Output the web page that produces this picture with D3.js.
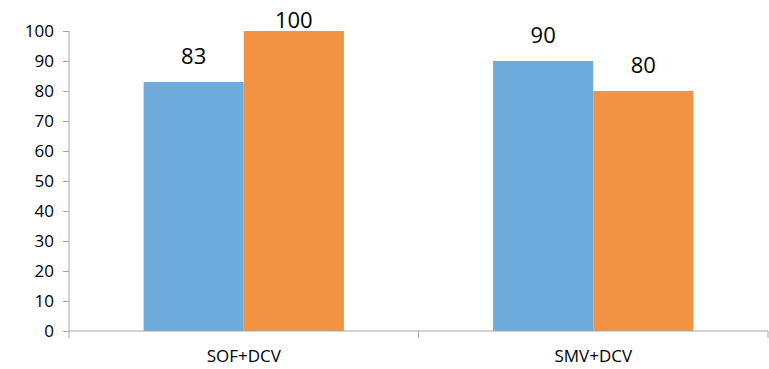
<!DOCTYPE html>
<html>
<head>
<meta charset="utf-8">
<script src="https://cdn.jsdelivr.net/npm/d3@7"></script>
<style>
  html, body { margin: 0; padding: 0; background: #fff; }
  svg { display: block; }
  text { font-family: "Open Sans", "Noto Sans", sans-serif; fill: #000; }
</style>
</head>
<body>
<svg id="chart" width="769" height="369"></svg>
<script>
// Chart data
const categories = ["SOF+DCV", "SMV+DCV"];
const seriesNames = ["A", "B"];
const seriesA = [83, 90];
const seriesB = [100, 80];
const yTicks = [0, 10, 20, 30, 40, 50, 60, 70, 80, 90, 100];
const colors = ["#6cabdc", "#f19342"];

const svg = d3.select("#chart");
const margin = { left: 69, right: 1, top: 31, bottom: 38 };
const W = 769, H = 369;

const x0 = d3.scaleBand().domain(categories).range([margin.left, W - margin.right]).paddingInner(0).paddingOuter(0);
const x1 = d3.scaleBand().domain(seriesNames).range([0, x0.bandwidth()]).paddingInner(0).paddingOuter(0.745);
const y = d3.scaleLinear().domain([0, 100]).range([H - margin.bottom, margin.top]);

const rows = categories.map((c, i) => ({ cat: c, vals: [seriesA[i], seriesB[i]] }));

// Bars
const groups = svg.append("g").selectAll("g").data(rows).join("g")
  .attr("transform", d => `translate(${x0(d.cat)},0)`);
groups.selectAll("rect").data(d => d.vals.map((v, j) => ({ v, s: seriesNames[j], j })))
  .join("rect")
  .attr("x", d => x1(d.s))
  .attr("width", x1.bandwidth())
  .attr("y", d => y(d.v))
  .attr("height", d => y(0) - y(d.v))
  .attr("fill", d => colors[d.j]);

// Value labels above the bars, kept inside the plot top
groups.selectAll("text.val").data(d => d.vals.map((v, j) => ({ v, s: seriesNames[j] })))
  .join("text")
  .attr("class", "val")
  .attr("x", d => x1(d.s) + x1.bandwidth() / 2)
  .attr("y", d => Math.max(y(d.v) - 18, 28))
  .attr("text-anchor", "middle")
  .attr("font-size", 22)
  .text(d => d.v);

// Y axis
const yAxis = svg.append("g")
  .attr("transform", `translate(${margin.left},0)`)
  .call(d3.axisLeft(y).tickValues(yTicks).tickSize(6).tickPadding(9));
yAxis.selectAll("path, line").attr("stroke", "#a6a6a6");
yAxis.select(".domain").attr("d", `M0,${y(100)}V${y(0)}`);
yAxis.selectAll("text").attr("font-size", 17).style("font-family", "'Open Sans', sans-serif").attr("fill", "#000");

// X axis
const xAxis = svg.append("g")
  .attr("transform", `translate(0,${y(0)})`)
  .call(d3.axisBottom(x0).tickSize(0).tickPadding(19));
xAxis.select(".domain").attr("stroke", "#a6a6a6").attr("d", `M${margin.left},0H${W - margin.right}`);
xAxis.selectAll("text").attr("font-size", 17).style("font-family", "'Open Sans', sans-serif").attr("fill", "#000");
// Category separators
const seps = [x0.range()[0], ...categories.map(c => x0(c) + x0.bandwidth())];
xAxis.selectAll("line.sep").data(seps).join("line")
  .attr("class", "sep")
  .attr("x1", d => d).attr("x2", d => d)
  .attr("y1", 0).attr("y2", 7)
  .attr("stroke", "#a6a6a6");
</script>
</body>
</html>
